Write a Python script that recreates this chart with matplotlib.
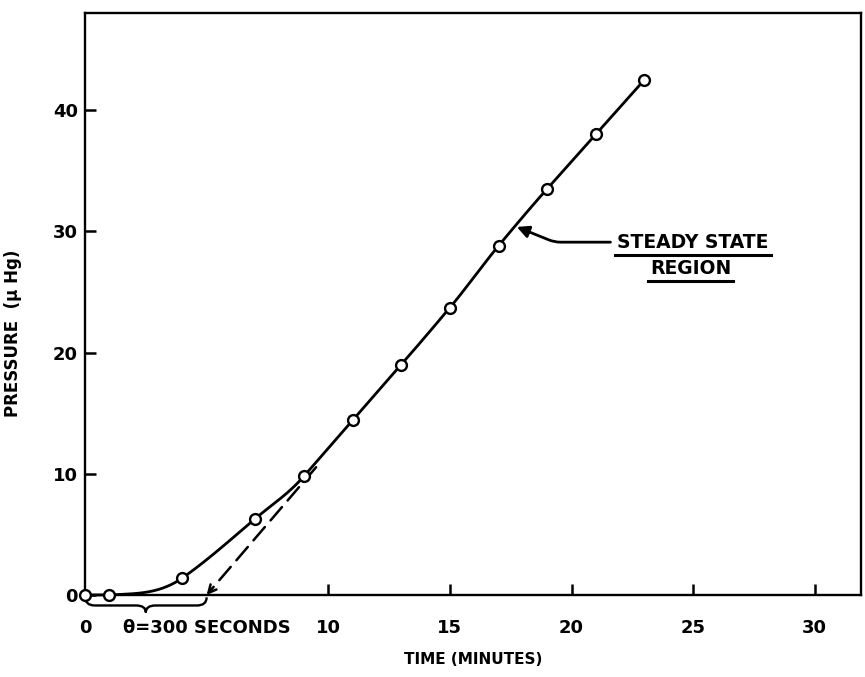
import numpy as np
import matplotlib
matplotlib.use("Agg")
import matplotlib.pyplot as plt
from matplotlib.path import Path
from matplotlib.patches import PathPatch
import matplotlib.transforms as mtransforms
from matplotlib.lines import Line2D

# ---- data ----
time_min = [0, 1, 4, 7, 9, 11, 13, 15, 17, 19, 21, 23]
pressure = [0, 0, 1.4, 6.3, 9.8, 14.4, 19.0, 23.7, 28.8, 33.5, 38.0, 42.5]
x_ticks = [0, 5, 10, 15, 20, 25, 30]
x_tick_labels = ["0", "θ=300 SECONDS", "10", "15", "20", "25", "30"]
y_ticks = [0, 10, 20, 30, 40]
y_tick_labels = ["0", "10", "20", "30", "40"]
lag_time = 5.0  # minutes (300 s)

plt.rcParams['font.family'] = ['DejaVu Sans']
plt.rcParams['font.weight'] = 'bold'

fig = plt.figure(figsize=(8.65, 6.77), dpi=100)
ax = fig.add_axes([85/865, 1-595/677, 776/865, 582/677])

# smooth curve (Akima spline) through the data
def akima(x, y, xs):
    x = np.asarray(x, float); y = np.asarray(y, float)
    n = len(x)
    h = np.diff(x)
    d = np.diff(y) / h
    dd = np.empty(n + 3)
    dd[2:n+1] = d
    dd[1] = 2*dd[2] - dd[3]
    dd[0] = 2*dd[1] - dd[2]
    dd[n+1] = 2*dd[n] - dd[n-1]
    dd[n+2] = 2*dd[n+1] - dd[n]
    m = np.empty(n)
    for k in range(n):
        dm2, dm1, d0, d1 = dd[k], dd[k+1], dd[k+2], dd[k+3]
        w1 = abs(d1 - d0); w2 = abs(dm1 - dm2)
        if w1 + w2 < 1e-12:
            m[k] = 0.5 * (dm1 + d0)
        else:
            m[k] = (w1 * dm1 + w2 * d0) / (w1 + w2)
    ys = np.empty_like(xs)
    for i, xv in enumerate(xs):
        k = np.searchsorted(x, xv, side='right') - 1
        k = int(min(max(k, 0), n - 2))
        t = (xv - x[k]) / h[k]
        h00 = 2*t**3 - 3*t**2 + 1; h10 = t**3 - 2*t**2 + t
        h01 = -2*t**3 + 3*t**2; h11 = t**3 - t**2
        ys[i] = h00*y[k] + h10*h[k]*m[k] + h01*y[k+1] + h11*h[k]*m[k+1]
    return ys

xs = np.linspace(time_min[0], time_min[-1], 800)
ys = np.maximum(akima(time_min, pressure, xs), 0)
ax.plot(xs, ys, color='black', lw=2.0, zorder=3, clip_on=False)

# dashed extrapolation of the steady state line to the time axis
slope = (pressure[-1] - pressure[5]) / (time_min[-1] - time_min[5])
x_end = 9.5
ax.annotate("", xy=(lag_time, 0), xytext=(x_end, slope * (x_end - lag_time)),
            arrowprops=dict(arrowstyle="->", lw=1.8, linestyle=(0, (7, 3.5)),
                            color='black', shrinkA=0, shrinkB=0,
                            mutation_scale=14))

ax.plot(time_min, pressure, 'o', ms=7.8, mfc='white', mec='black', mew=1.7,
        zorder=4, clip_on=False)

ax.set_xlim(0, 31.9)
ax.set_ylim(0, 48.0)
ax.set_xticks(x_ticks)
ax.set_xticklabels(x_tick_labels, fontsize=13, fontweight='bold')
ax.set_yticks(y_ticks)
ax.set_yticklabels(y_tick_labels, fontsize=13, fontweight='bold')
ax.tick_params(axis='x', direction='in', length=8, width=1.8, pad=17)
ax.tick_params(axis='y', direction='in', length=8, width=1.8, pad=5)
ax.xaxis.get_major_ticks()[1].tick1line.set_visible(False)
ax.xaxis.get_major_ticks()[0].tick1line.set_visible(False)
for s in ax.spines.values():
    s.set_linewidth(1.7)

ax.set_xlabel("TIME (MINUTES)", fontsize=11, fontweight='bold')
ax.xaxis.set_label_coords(0.5, -0.098)
ax.set_ylabel("PRESSURE  (μ Hg)", fontsize=12, fontweight='bold')
ax.yaxis.set_label_coords(-0.081, 0.45)

# brace under the lag interval
trans = mtransforms.blended_transform_factory(ax.transData, ax.transAxes)
verts = [(0, -0.002), (0, -0.018), (0.4, -0.018), (2.1, -0.018),
         (2.5, -0.018), (2.5, -0.030), (2.5, -0.018), (2.9, -0.018),
         (4.6, -0.018), (5.0, -0.018), (5.0, -0.004)]
codes = [Path.MOVETO, Path.CURVE3, Path.CURVE3, Path.LINETO,
         Path.CURVE3, Path.CURVE3, Path.CURVE3, Path.CURVE3,
         Path.LINETO, Path.CURVE3, Path.CURVE3]
ax.add_patch(PathPatch(Path(verts, codes), transform=trans, fill=False,
                       lw=1.7, edgecolor='black', clip_on=False))

# steady-state annotation
t1 = ax.text(25.0, 29.1, "STEADY STATE", fontsize=13.5, fontweight='bold',
             ha='center', va='center')
t2 = ax.text(24.9, 26.9, "REGION", fontsize=13.5, fontweight='bold',
             ha='center', va='center')
tip_t = 17.75
tip_p = pressure[8] + slope * (tip_t - time_min[8]) - 0.2
ax.annotate("", xy=(tip_t, tip_p), xytext=(21.6, 29.1),
            arrowprops=dict(arrowstyle="-|>", lw=2.0, color='black',
                            shrinkA=0, shrinkB=0, mutation_scale=18,
                            connectionstyle="angle,angleA=0,angleB=-22,rad=6"))

fig.canvas.draw()
for t in (t1, t2):
    bb = t.get_window_extent()
    y = bb.y0 - 3
    fig.add_artist(Line2D([bb.x0 - 2, bb.x1 + 2], [y, y], transform=None,
                          color='black', lw=2.2))

fig.savefig("out.png", dpi=100)
